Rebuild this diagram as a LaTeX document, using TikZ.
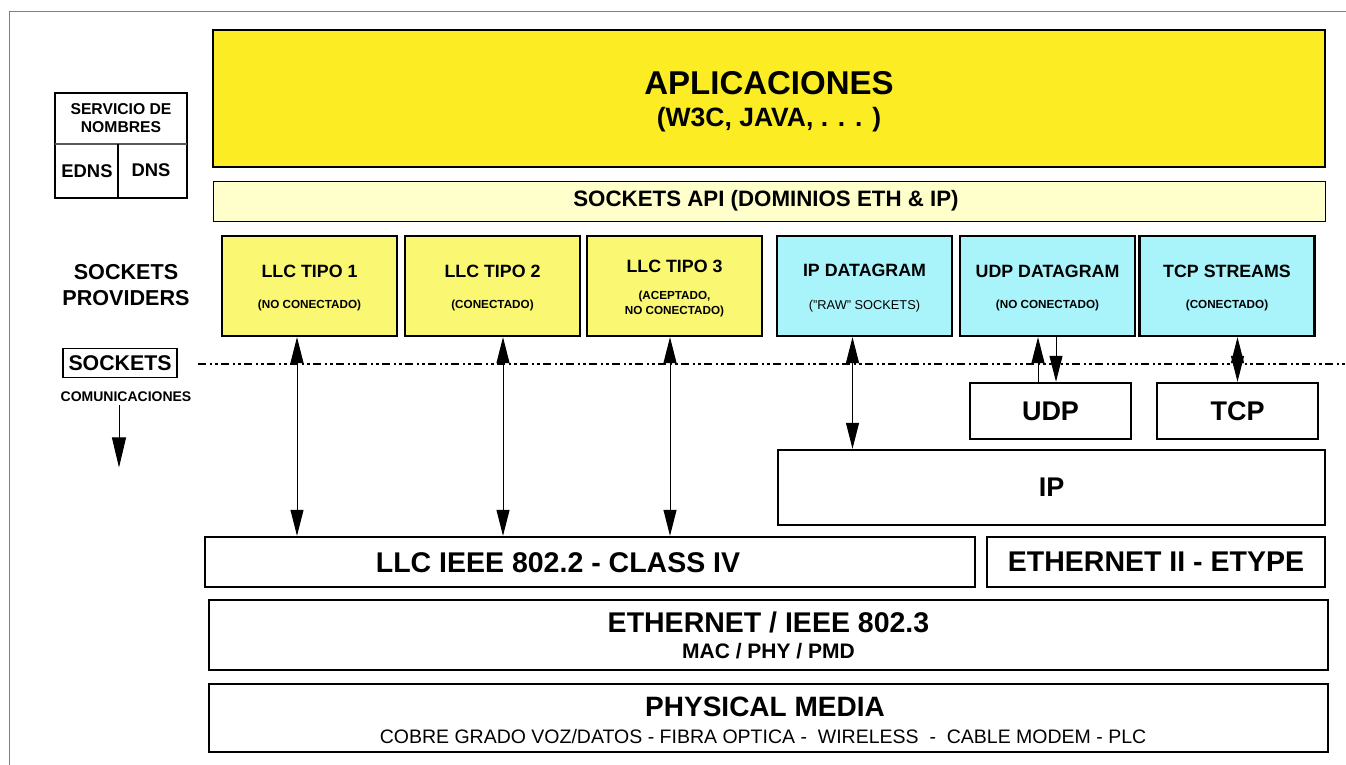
\documentclass[tikz,border=0pt]{standalone}
\usepackage{fontspec}
\setmainfont{Liberation Sans}
\usetikzlibrary{arrows.meta, positioning}
\definecolor{amarilloapp}{HTML}{FCEC24}
\definecolor{amarilloapi}{HTML}{FFFFCC}
\definecolor{amarillollc}{HTML}{FAF872}
\definecolor{celeste}{HTML}{A8F4FA}
\newcommand{\tamano}[2]{\fontsize{#1}{#2}\selectfont}

\tikzset{
  capa/.style={draw, line width=2.4pt, inner sep=0pt},
  proveedor/.style={capa, minimum width=175pt, minimum height=100pt},
  titulo/.style={font=\bfseries\tamano{17.8}{20}},
  nota/.style={font=\bfseries\tamano{11.7}{15}, align=center},
  grande/.style={font=\bfseries\tamano{28.5}{30}},
  flecha/.style={line width=1pt, {Triangle[length=26pt,width=13pt]}-{Triangle[length=26pt,width=13pt]}},
  subida/.style={line width=1pt, -{Triangle[length=26pt,width=13pt]}},
}

\begin{document}
\begin{tikzpicture}[x=1pt, y=-1pt]
				\useasboundingbox (0,0) rectangle (1346,765);
				% Marco
				\draw[gray, line width=1pt] (9,765) -- (9,12) -- (1346,12);
				% Servicio de nombres
				\node[capa, minimum width=132pt, minimum height=105pt] (servnom) at (121,145.5) {};
				\draw[gray!70!black, line width=1pt] (55,144) -- (187,144);
				\draw[line width=1.2pt] (118,144) -- (118,198);
				\node[font=\bfseries\tamano{15.7}{18}, align=center] (servnomt) at (121,118) {SERVICIO DE\\NOMBRES};
				\node[font=\bfseries\tamano{18.4}{20}] (edns) at (87,171) {EDNS};
				\node[font=\bfseries\tamano{18.4}{20}] (dns) at (151,170) {DNS};
				% Aplicaciones y API
				\node[capa, fill=amarilloapp, minimum width=1112pt, minimum height=137pt] (aplic) at (769,98.5) {};
				\node[font=\bfseries\tamano{33}{36}] (aplict) at (769,83) {APLICACIONES};
				\node[font=\bfseries\tamano{26.5}{28}] (aplicn) at (769,120) {(W3C, JAVA, . . . )};
				\node[draw, line width=1pt, fill=amarilloapi, minimum width=1112pt, minimum height=40pt] (api) at (769,201) {};
				\node[font=\bfseries\tamano{22.3}{24}] (apit) at (766,201) {SOCKETS API (DOMINIOS ETH \& IP)};
				% Proveedores
				\node[font=\bfseries\tamano{21.6}{26}, align=center] (provt) at (126,285) {SOCKETS\\PROVIDERS};
				\node[proveedor, fill=amarillollc] (llc1) at (309.5,286) {};
				\node[titulo] (llc1t) at (309.5,271) {LLC TIPO 1};
				\node[nota] (llc1n) at (309.5,305) {(NO CONECTADO)};
				\node[proveedor, fill=amarillollc] (llc2) at (492.5,286) {};
				\node[titulo] (llc2t) at (492.5,271) {LLC TIPO 2};
				\node[nota] (llc2n) at (492.5,305) {(CONECTADO)};
				\node[proveedor, fill=amarillollc] (llc3) at (674.5,286) {};
				\node[titulo] (llc3t) at (674.5,266) {LLC TIPO 3};
				\node[nota] (llc3n) at (674.5,304) {(ACEPTADO,\\NO CONECTADO)};
				\node[proveedor, fill=celeste] (ipdg) at (864.5,286) {};
				\node[titulo] (ipdgt) at (864.5,270) {IP DATAGRAM};
				\node[font=\tamano{12.8}{15}] (ipdgn) at (864.5,306) {("RAW" SOCKETS)};
				\node[proveedor, fill=celeste] (udpdg) at (1047.5,286) {};
				\node[titulo] (udpdgt) at (1047.5,271) {UDP DATAGRAM};
				\node[nota] (udpdgn) at (1047.5,305) {(NO CONECTADO)};
				\node[proveedor, fill=celeste] (tcpst) at (1227,286) {};
				\node[titulo] (tcpstt) at (1227,271) {TCP STREAMS};
				\node[nota] (tcpstn) at (1227,305) {(CONECTADO)};
				% Sockets
				\node[draw, line width=1.2pt, minimum width=114pt, minimum height=29pt, font=\bfseries\tamano{21.3}{24}] (sockbox) at (120,363) {SOCKETS};
				\node[font=\bfseries\tamano{14}{16}] (comun) at (126,397) {COMUNICACIONES};
				\draw[line width=1pt, -{Triangle[length=30pt,width=14pt]}] ([xshift=-7pt]comun.south) -- ++(0,62);
				\draw[line width=2pt, dash pattern=on 8pt off 3.5pt on 2.5pt off 3pt on 2.5pt off 3.5pt] (198,364) -- (1346,364);
				% Capas inferiores
				\node[capa, minimum width=161pt, minimum height=56pt, font=\bfseries\tamano{27}{30}] (udp) at (1050.5,411) {UDP};
				\node[capa, minimum width=161pt, minimum height=56pt, font=\bfseries\tamano{27}{30}] (tcp) at (1237.5,411) {TCP};
				\node[capa, minimum width=547pt, minimum height=75pt, font=\bfseries\tamano{27}{30}] (ip) at (1051.5,487.5) {IP};
				\node[capa, minimum width=770pt, minimum height=50pt] (llc) at (590,562) {};
				\node[grande] (llct) at (558,563) {LLC IEEE 802.2 - CLASS IV};
				\node[capa, grande, minimum width=338pt, minimum height=50pt] (ethii) at (1156,562) {ETHERNET II - ETYPE};
				\node[capa, minimum width=1119pt, minimum height=70pt] (eth) at (768.5,635) {};
				\node[grande] (etht) at (768.5,622) {ETHERNET / IEEE 802.3};
				\node[font=\bfseries\tamano{21}{24}] (ethn) at (768.5,651) {MAC / PHY / PMD};
				\node[capa, minimum width=1119pt, minimum height=68pt] (fis) at (768.5,718) {};
				\node[font=\bfseries\tamano{28}{30}] (fist) at (765,707) {PHYSICAL MEDIA};
				\node[font=\tamano{19.5}{22}] (fisn) at (763,737) {COBRE GRADO VOZ/DATOS - FIBRA OPTICA -~ WIRELESS ~-~ CABLE MODEM - PLC};
				% Flechas
				\draw[flecha] ([xshift=-12.5pt]llc1.south) -- ([xshift=-12.5pt]llc1.south |- llc.north);
				\draw[flecha] ([xshift=10.5pt]llc2.south) -- ([xshift=10.5pt]llc2.south |- llc.north);
				\draw[flecha] ([xshift=-4.5pt]llc3.south) -- ([xshift=-4.5pt]llc3.south |- llc.north);
				\draw[flecha] ([xshift=-12pt]ipdg.south) -- ([xshift=-12pt]ipdg.south |- ip.north);
				\draw[subida] ([xshift=-12.5pt]udp.north) -- ([xshift=-12.5pt]udp.north |- udpdg.south);
				\draw[subida] ([xshift=5.5pt]udp.north |- udpdg.south) -- ([xshift=5.5pt]udp.north);
				\draw[flecha] (tcp.north |- tcpst.south) -- (tcp.north);
			\end{tikzpicture}
\end{document}
